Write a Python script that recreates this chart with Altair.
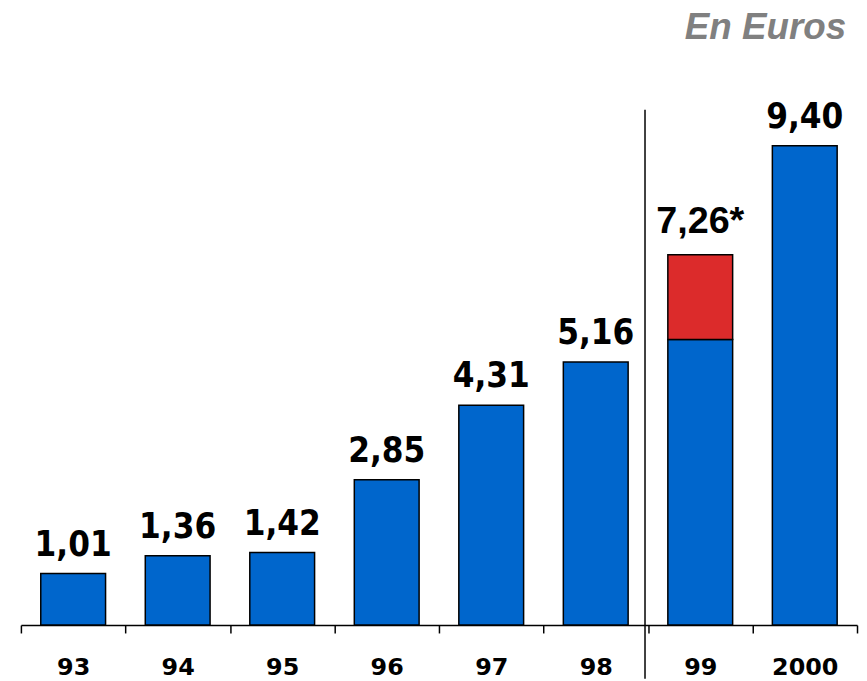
import altair as alt
import pandas as pd

years = ["93", "94", "95", "96", "97", "98", "99", "2000"]
totals = [1.01, 1.36, 1.42, 2.85, 4.31, 5.16, 7.26, 9.40]
blue_part = [1.01, 1.36, 1.42, 2.85, 4.31, 5.16, 5.60, 9.40]
red_part = [0, 0, 0, 0, 0, 0, 1.66, 0]
labels = ["1,01", "1,36", "1,42", "2,85", "4,31", "5,16", "7,26*", "9,40"]

BLUE = "#0066cc"
RED = "#dc2b2b"

rows = []
for i, y in enumerate(years):
    rows.append({"year": y, "part": "a", "amount": blue_part[i], "order": 0})
    if red_part[i] > 0:
        rows.append({"year": y, "part": "b", "amount": red_part[i], "order": 1})
bars_df = pd.DataFrame(rows)
labels_df = pd.DataFrame({"year": years, "total": totals, "label": labels})

xscale = alt.Scale(domain=years, paddingInner=0, paddingOuter=0)
yscale = alt.Scale(domain=[0, 10], nice=False, zero=True)

bars = alt.Chart(bars_df).mark_bar(
    width=alt.RelativeBandSize(0.62), stroke="black", strokeWidth=1.5
).encode(
    x=alt.X("year:N", scale=xscale, sort=years,
            axis=alt.Axis(title=None, labelAngle=0, domainColor="black", domainWidth=1.5,
                          tickColor="black", tickWidth=1.5, tickSize=8, tickBand="extent",
                          labelFont="DejaVu Sans", labelFontWeight="bold", labelFontSize=24,
                          labelColor="black", labelPadding=23, grid=False)),
    y=alt.Y("amount:Q", scale=yscale, stack="zero", axis=None),
    color=alt.Color("part:N", scale=alt.Scale(domain=["a", "b"], range=[BLUE, RED]), legend=None),
    order=alt.Order("order:Q"),
)

main_labels = alt.Chart(labels_df).transform_filter(alt.datum.year != "99").mark_text(
    font="DejaVu Sans Condensed", fontWeight="bold", fontSize=35, color="black",
    baseline="alphabetic", dy=-18
).encode(
    x=alt.X("year:N", scale=xscale, sort=years),
    y=alt.Y("total:Q", scale=yscale),
    text="label:N",
)

star_label = alt.Chart(labels_df).transform_filter(alt.datum.year == "99").mark_text(
    font="Liberation Sans", fontWeight="bold", fontSize=38, color="black",
    baseline="alphabetic", dy=-22
).encode(
    x=alt.X("year:N", scale=xscale, sort=years),
    y=alt.Y("total:Q", scale=yscale),
    text="label:N",
)

sep = alt.Chart(pd.DataFrame({"year": ["99"]})).mark_rule(
    color="black", strokeWidth=1.5, xOffset=-3
).encode(
    x=alt.X("year:N", scale=xscale, sort=years, bandPosition=0),
    y=alt.value(-5.5),
    y2=alt.value(567.5),
)

chart = alt.layer(bars, sep, main_labels, star_label).properties(
    width=842,
    height=513.5,
    title=alt.TitleParams("En Euros", anchor="end", font="Liberation Sans", fontSize=37,
                          fontWeight="bold", fontStyle="italic", color="#808080",
                          offset=53, dx=-11, frame="group"),
    autosize=alt.AutoSizeParams(type="none"),
    padding={"left": 13, "top": 105.5, "right": 2, "bottom": 54},
).configure_view(stroke=None)

chart.save("out.html", embed_options={"renderer": "svg", "actions": False})
